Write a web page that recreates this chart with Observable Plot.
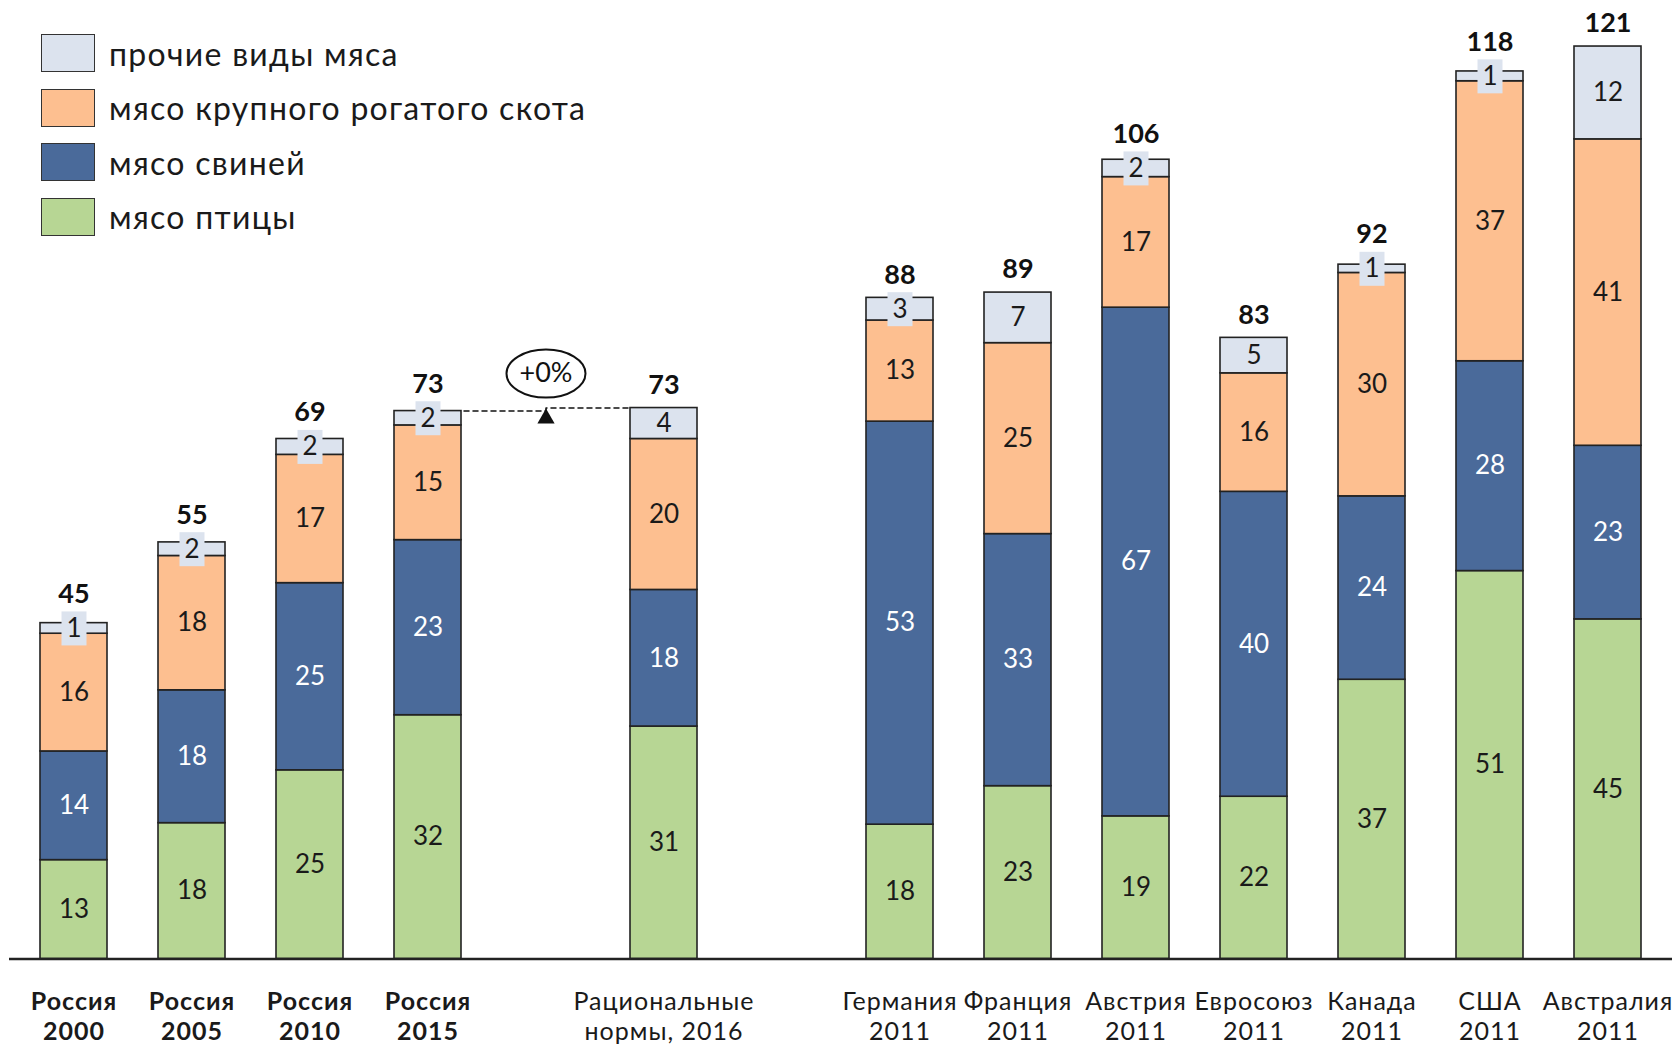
<!DOCTYPE html>
<html>
<head>
<meta charset="utf-8">
<script src="https://cdn.jsdelivr.net/npm/d3@7"></script>
<script src="https://cdn.jsdelivr.net/npm/@observablehq/plot@0.6"></script>
<style>
  html, body { margin: 0; padding: 0; background: #fff; }
  #wrap { position: relative; width: 1675px; height: 1047px; font-family: Lato, "Open Sans", sans-serif; }
  #legend { position: absolute; left: 41px; top: 34px; }
  .item { display: flex; align-items: center; height: 38px; margin-bottom: 16.5px; }
  .sw { width: 54px; height: 38px; box-sizing: border-box; border: 1.5px solid #333; }
  .lab { margin-left: 14px; font-size: 32px; letter-spacing: 1.3px; color: #1a1a1a; white-space: nowrap; }
</style>
</head>
<body>
<div id="wrap"><div id="chart"></div><div id="legend"></div></div>
<script>
// ---- data (kg per person per year) ----
const categories = [
  "Россия\n2000", "Россия\n2005", "Россия\n2010", "Россия\n2015",
  "Рациональные\nнормы, 2016",
  "Германия\n2011", "Франция\n2011", "Австрия\n2011", "Евросоюз\n2011",
  "Канада\n2011", "США\n2011", "Австралия\n2011"
];
const series = ["мясо птицы", "мясо свиней", "мясо крупного рогатого скота", "прочие виды мяса"];
const poultry = [13.1, 18.0, 25.0, 32.3, 30.8, 17.8, 22.9, 18.9, 21.5, 37.0, 51.4, 45.0];
const pork    = [14.4, 17.6, 24.8, 23.2, 18.1, 53.4, 33.4, 67.4, 40.4, 24.3, 27.8, 23.0];
const beef    = [15.6, 17.8, 17.0, 15.2, 20.0, 13.4, 25.3, 17.3, 15.7, 29.6, 37.1, 40.6];
const other   = [1.4, 1.8, 2.1, 1.9, 4.1, 3.0, 6.7, 2.3, 4.7, 1.1, 1.3, 12.3];
const totals  = [45, 55, 69, 73, 73, 88, 89, 106, 83, 92, 118, 121];
const changeLabel = "+0%";
const boldCats = categories.slice(0, 4);

// ---- styling ----
const colors = ["#B7D694", "#4A6A9A", "#FDBF90", "#DCE3EE"];
const gaps = ["gap-a", "gap-b"];
const xDomain = [...categories.slice(0, 4), gaps[0], categories[4], gaps[1], ...categories.slice(5)];
const smallLimit = 3.5;   // "other" segments this small get a label box
const boxLift = 1.5;      // total label clears the label box (in data units)

// ---- table ----
const valuesBySeries = [poultry, pork, beef, other];
const rows = [];
const tops = [];
categories.forEach((cat, i) => {
  let cum = 0, lastMid = 0;
  series.forEach((s, j) => {
    const v = valuesBySeries[j][i];
    rows.push({cat, series: s, value: v, y1: cum, y2: cum + v, ymid: cum + v / 2, label: String(Math.round(v))});
    lastMid = cum + v / 2;
    cum += v;
  });
  const small = other[i] < smallLimit;
  tops.push({cat, top: cum, anchor: small ? Math.max(cum, lastMid + boxLift) : cum, label: String(totals[i])});
});
const topOf = c => tops.find(d => d.cat === c).top;
const ruLast = categories[3], norm = categories[4];
const stepLine = [
  {x: ruLast, y: topOf(ruLast)},
  {x: gaps[0], y: topOf(norm)},
  {x: norm, y: topOf(norm)}
];
const note = [{x: gaps[0], y: topOf(norm), text: changeLabel}];

const boxSymbol = {draw(ctx) { ctx.rect(-12.5, -17, 25, 34); }};
const ellipseSymbol = {draw(ctx) {
  const rx = 39.5, ry = 24, k = 0.5523;
  ctx.moveTo(rx, 0);
  ctx.bezierCurveTo(rx, ry * k, rx * k, ry, 0, ry);
  ctx.bezierCurveTo(-rx * k, ry, -rx, ry * k, -rx, 0);
  ctx.bezierCurveTo(-rx, -ry * k, -rx * k, -ry, 0, -ry);
  ctx.bezierCurveTo(rx * k, -ry, rx, -ry * k, rx, 0);
  ctx.closePath();
}};

const chart = Plot.plot({
  width: 1675,
  height: 1047,
  marginLeft: 9,
  marginRight: 3,
  marginTop: 0,
  marginBottom: 88.5,
  style: {fontFamily: "Lato, 'Open Sans', sans-serif", background: "#fff", color: "#1a1a1a"},
  x: {type: "band", domain: xDomain, range: [36.7, 1643.7], paddingInner: 0.43, paddingOuter: 0},
  y: {domain: [0, 127], axis: null},
  color: {domain: series, range: colors},
  marks: [
    Plot.line(stepLine, {x: "x", y: "y", curve: "step-after", stroke: "#111", strokeWidth: 1.5, strokeDasharray: "5,4"}),
    Plot.barY(rows, {x: "cat", y1: "y1", y2: "y2", fill: "series", stroke: "#222", strokeWidth: 1.6}),
    Plot.ruleY([0], {stroke: "#222", strokeWidth: 2.5}),
    Plot.dot(rows.filter(d => d.series === series[3] && d.value < smallLimit),
      {x: "cat", y: "ymid", symbol: boxSymbol, fill: colors[3], stroke: "none"}),
    Plot.text(rows.filter(d => d.series !== series[1]),
      {x: "cat", y: "ymid", text: "label", fontSize: 26, fill: "#1a1a1a", lineAnchor: "middle"}),
    Plot.text(rows.filter(d => d.series === series[1]),
      {x: "cat", y: "ymid", text: "label", fontSize: 26, fill: "#ffffff", lineAnchor: "middle"}),
    Plot.text(tops, {x: "cat", y: "anchor", text: "label", fontSize: 27, fontWeight: "bold", fill: "#111", lineAnchor: "middle", dy: -23}),
    Plot.dot(note, {x: "x", y: "y", symbol: ellipseSymbol, fill: "#fff", stroke: "#111", strokeWidth: 2, dy: -34.5}),
    Plot.text(note, {x: "x", y: "y", text: "text", fontSize: 27, fill: "#111", lineAnchor: "middle", dy: -34.5}),
    Plot.dot(note, {x: "x", y: "y", symbol: "triangle", r: 6.4, fill: "#111", stroke: "none", dy: 10.5}),
    Plot.axisX(boldCats, {tickSize: 0, tickPadding: 30, fontSize: 25, fontWeight: "bold", lineHeight: 1.2, fill: "#1a1a1a"}),
    Plot.axisX(categories.slice(4), {tickSize: 0, tickPadding: 30, fontSize: 25, lineHeight: 1.2, fill: "#1a1a1a"})
  ]
});
d3.select(chart).selectAll('g[aria-label="x-axis tick label"] text').style("letter-spacing", "1px");
document.getElementById("chart").appendChild(chart);

// legend (top to bottom: reverse of stacking order)
const legend = d3.select("#legend");
series.map((s, i) => ({s, c: colors[i]})).reverse().forEach(({s, c}) => {
  const it = legend.append("div").attr("class", "item");
  it.append("div").attr("class", "sw").style("background", c);
  it.append("div").attr("class", "lab").text(s);
});
</script>
</body>
</html>
